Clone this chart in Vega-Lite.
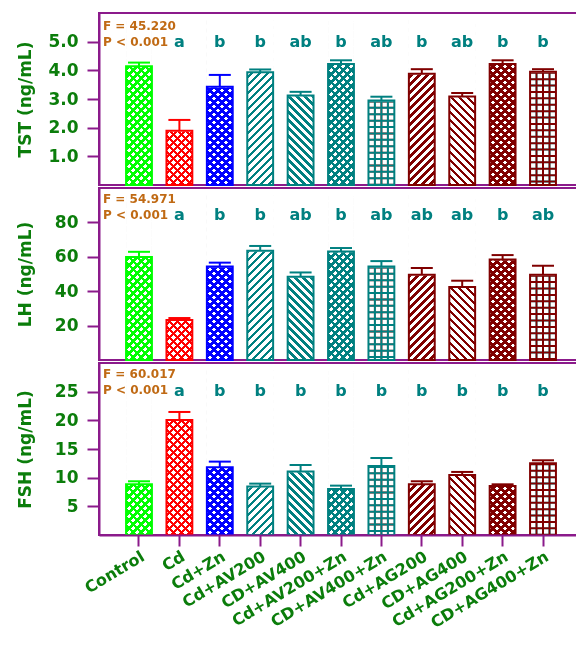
{
  "$schema": "https://vega.github.io/schema/vega-lite/v6.json",
  "background": "white",
  "padding": {"left": 15, "top": 12, "right": 0, "bottom": 0},
  "data": {
    "values": [
      {"g": "Control", "tst": 4.14, "tst_up": 4.27, "tst_sig": "", "lh": 59.9, "lh_up": 62.9, "lh_sig": "", "fsh": 8.84, "fsh_up": 9.37, "fsh_sig": ""},
      {"g": "Cd", "tst": 1.89, "tst_up": 2.27, "tst_sig": "a", "lh": 23.3, "lh_up": 24.4, "lh_sig": "a", "fsh": 20.06, "fsh_up": 21.46, "fsh_sig": "a"},
      {"g": "Cd+Zn", "tst": 3.43, "tst_up": 3.84, "tst_sig": "b", "lh": 54.4, "lh_up": 56.6, "lh_sig": "b", "fsh": 11.81, "fsh_up": 12.8, "fsh_sig": "b"},
      {"g": "Cd+AV200", "tst": 3.93, "tst_up": 4.03, "tst_sig": "b", "lh": 63.5, "lh_up": 66.3, "lh_sig": "b", "fsh": 8.44, "fsh_up": 8.96, "fsh_sig": "b"},
      {"g": "CD+AV400", "tst": 3.12, "tst_up": 3.25, "tst_sig": "ab", "lh": 48.4, "lh_up": 50.9, "lh_sig": "ab", "fsh": 11.06, "fsh_up": 12.21, "fsh_sig": "b"},
      {"g": "Cd+AV200+Zn", "tst": 4.22, "tst_up": 4.35, "tst_sig": "b", "lh": 63.1, "lh_up": 65.1, "lh_sig": "b", "fsh": 8.03, "fsh_up": 8.61, "fsh_sig": "b"},
      {"g": "CD+AV400+Zn", "tst": 2.95, "tst_up": 3.08, "tst_sig": "ab", "lh": 54.4, "lh_up": 57.5, "lh_sig": "ab", "fsh": 12.04, "fsh_up": 13.43, "fsh_sig": "b"},
      {"g": "Cd+AG200", "tst": 3.88, "tst_up": 4.04, "tst_sig": "b", "lh": 49.6, "lh_up": 53.5, "lh_sig": "ab", "fsh": 8.84, "fsh_up": 9.37, "fsh_sig": "b"},
      {"g": "CD+AG400", "tst": 3.09, "tst_up": 3.21, "tst_sig": "ab", "lh": 42.4, "lh_up": 46.1, "lh_sig": "ab", "fsh": 10.47, "fsh_up": 11.0, "fsh_sig": "b"},
      {"g": "Cd+AG200+Zn", "tst": 4.22, "tst_up": 4.35, "tst_sig": "b", "lh": 58.5, "lh_up": 61.0, "lh_sig": "b", "fsh": 8.55, "fsh_up": 8.84, "fsh_sig": "b"},
      {"g": "CD+AG400+Zn", "tst": 3.95, "tst_up": 4.04, "tst_sig": "b", "lh": 49.6, "lh_up": 54.8, "lh_sig": "ab", "fsh": 12.5, "fsh_up": 13.03, "fsh_sig": "b"}
    ]
  },
  "spacing": 0,
  "resolve": {"scale": {"y": "independent"}},
  "vconcat": [
    {
      "width": 484,
      "height": 172,
      "layer": [
        {"transform": [{"filter": {"field": "g", "oneOf": ["Control", "Cd", "Cd+Zn", "Cd+AV200+Zn", "Cd+AG200+Zn", "Cd+AV200", "Cd+AG200"]}}],
         "mark": {"type": "rect"},
         "encoding": {"x": {"field": "g", "type": "nominal", "axis": null, "scale": {"domain": ["Control", "Cd", "Cd+Zn", "Cd+AV200", "CD+AV400", "Cd+AV200+Zn", "CD+AV400+Zn", "Cd+AG200", "CD+AG400", "Cd+AG200+Zn", "CD+AG400+Zn"], "paddingInner": 0.36, "paddingOuter": 0.67}},
                      "y": {"datum": 0, "type": "quantitative", "scale": {"domain": [0, 6]}, "axis": {"title": "TST (ng/mL)", "values": [1, 2, 3, 4, 5], "format": ".1f"}}, "y2": {"datum": 5.76}}},
        {"transform": [{"filter": {"field": "g", "oneOf": ["Control", "Cd", "Cd+Zn", "Cd+AV200+Zn", "Cd+AG200+Zn", "CD+AV400", "CD+AG400"]}}],
         "mark": {"type": "bar"},
         "encoding": {"x": {"field": "g", "type": "nominal", "axis": null},
                      "y": {"datum": 0, "type": "quantitative"}, "y2": {"datum": 5.76}}},
        {"transform": [{"filter": {"field": "g", "oneOf": ["CD+AV400+Zn", "CD+AG400+Zn"]}}],
         "mark": {"type": "rule", "color": "#000", "strokeWidth": 2, "xOffset": -6.5},
         "encoding": {"x": {"field": "g", "type": "nominal", "axis": null},
                      "y": {"field": "tst", "type": "quantitative"}, "y2": {"datum": 0}}},
        {"transform": [{"filter": {"field": "g", "oneOf": ["CD+AV400+Zn", "CD+AG400+Zn"]}}],
         "mark": {"type": "rule", "color": "#000", "strokeWidth": 2},
         "encoding": {"x": {"field": "g", "type": "nominal", "axis": null},
                      "y": {"field": "tst", "type": "quantitative"}, "y2": {"datum": 0}}},
        {"transform": [{"filter": {"field": "g", "oneOf": ["CD+AV400+Zn", "CD+AG400+Zn"]}}],
         "mark": {"type": "rule", "color": "#000", "strokeWidth": 2, "xOffset": 6.5},
         "encoding": {"x": {"field": "g", "type": "nominal", "axis": null},
                      "y": {"field": "tst", "type": "quantitative"}, "y2": {"datum": 0}}},
        {"transform": [{"filter": {"field": "g", "oneOf": ["CD+AV400+Zn", "CD+AG400+Zn"]}}],
         "mark": {"type": "rule", "color": "#000", "strokeWidth": 26, "strokeDash": [2, 4.4], "clip": true},
         "encoding": {"x": {"field": "g", "type": "nominal", "axis": null},
                      "y": {"field": "tst", "type": "quantitative"}, "y2": {"datum": 0}}},
        {"mark": {"type": "bar", "blend": "lighten"},
         "encoding": {"x": {"field": "g", "type": "nominal", "axis": null},
                      "y": {"field": "tst", "type": "quantitative"},
                      "color": {"field": "g", "type": "nominal", "legend": null, "scale": {"domain": ["Control", "Cd", "Cd+Zn", "Cd+AV200", "CD+AV400", "Cd+AV200+Zn", "CD+AV400+Zn", "Cd+AG200", "CD+AG400", "Cd+AG200+Zn", "CD+AG400+Zn"], "range": ["#00ff00", "#ff0000", "#0000ff", "#008080", "#008080", "#008080", "#008080", "#800000", "#800000", "#800000", "#800000"]}}}},
        {"mark": {"type": "bar", "fill": "white", "stroke": "white", "strokeWidth": 1.5},
         "encoding": {"x": {"field": "g", "type": "nominal", "axis": null},
                      "y": {"field": "tst", "type": "quantitative"}, "y2": {"datum": 5.76}}},
        {"mark": {"type": "bar", "fill": "transparent", "strokeWidth": 2},
         "encoding": {"x": {"field": "g", "type": "nominal", "axis": null},
                      "y": {"field": "tst", "type": "quantitative"},
                      "stroke": {"field": "g", "type": "nominal", "legend": null, "scale": {"domain": ["Control", "Cd", "Cd+Zn", "Cd+AV200", "CD+AV400", "Cd+AV200+Zn", "CD+AV400+Zn", "Cd+AG200", "CD+AG400", "Cd+AG200+Zn", "CD+AG400+Zn"], "range": ["#00ff00", "#ff0000", "#0000ff", "#008080", "#008080", "#008080", "#008080", "#800000", "#800000", "#800000", "#800000"]}}}},
        {"mark": {"type": "rule", "strokeWidth": 2},
         "encoding": {"x": {"field": "g", "type": "nominal", "axis": null},
                      "y": {"field": "tst", "type": "quantitative"}, "y2": {"field": "tst_up"},
                      "color": {"field": "g", "type": "nominal", "legend": null}}},
        {"mark": {"type": "tick", "thickness": 2, "size": 22, "opacity": 1},
         "encoding": {"x": {"field": "g", "type": "nominal", "axis": null},
                      "y": {"field": "tst_up", "type": "quantitative"},
                      "color": {"field": "g", "type": "nominal", "legend": null}}},
        {"mark": {"type": "text", "fontSize": 16, "fontWeight": "bold", "color": "#008080"},
         "encoding": {"x": {"field": "g", "type": "nominal", "axis": null},
                      "y": {"datum": 5.0, "type": "quantitative"}, "text": {"field": "tst_sig"}}},
        {"transform": [{"filter": {"field": "g", "equal": "Control"}}],
         "mark": {"type": "text", "align": "left", "dx": -36, "fontSize": 12, "fontWeight": "bold", "color": "#c06a14", "lineHeight": 16, "text": ["F = 45.220", "P < 0.001"]},
         "encoding": {"x": {"field": "g", "type": "nominal", "axis": null},
                      "y": {"datum": 5.55, "type": "quantitative"}}}
      ]
    },
    {
      "width": 484,
      "height": 172,
      "layer": [
        {"transform": [{"filter": {"field": "g", "oneOf": ["Control", "Cd", "Cd+Zn", "Cd+AV200+Zn", "Cd+AG200+Zn", "Cd+AV200", "Cd+AG200"]}}],
         "mark": {"type": "rect"},
         "encoding": {"x": {"field": "g", "type": "nominal", "axis": null, "scale": {"domain": ["Control", "Cd", "Cd+Zn", "Cd+AV200", "CD+AV400", "Cd+AV200+Zn", "CD+AV400+Zn", "Cd+AG200", "CD+AG400", "Cd+AG200+Zn", "CD+AG400+Zn"], "paddingInner": 0.36, "paddingOuter": 0.67}},
                      "y": {"datum": 0, "type": "quantitative", "scale": {"domain": [0, 100]}, "axis": {"title": "LH (ng/mL)", "values": [20, 40, 60, 80]}}, "y2": {"datum": 96}}},
        {"transform": [{"filter": {"field": "g", "oneOf": ["Control", "Cd", "Cd+Zn", "Cd+AV200+Zn", "Cd+AG200+Zn", "CD+AV400", "CD+AG400"]}}],
         "mark": {"type": "bar"},
         "encoding": {"x": {"field": "g", "type": "nominal", "axis": null},
                      "y": {"datum": 0, "type": "quantitative"}, "y2": {"datum": 96}}},
        {"transform": [{"filter": {"field": "g", "oneOf": ["CD+AV400+Zn", "CD+AG400+Zn"]}}],
         "mark": {"type": "rule", "color": "#000", "strokeWidth": 2, "xOffset": -6.5},
         "encoding": {"x": {"field": "g", "type": "nominal", "axis": null},
                      "y": {"field": "lh", "type": "quantitative"}, "y2": {"datum": 0}}},
        {"transform": [{"filter": {"field": "g", "oneOf": ["CD+AV400+Zn", "CD+AG400+Zn"]}}],
         "mark": {"type": "rule", "color": "#000", "strokeWidth": 2},
         "encoding": {"x": {"field": "g", "type": "nominal", "axis": null},
                      "y": {"field": "lh", "type": "quantitative"}, "y2": {"datum": 0}}},
        {"transform": [{"filter": {"field": "g", "oneOf": ["CD+AV400+Zn", "CD+AG400+Zn"]}}],
         "mark": {"type": "rule", "color": "#000", "strokeWidth": 2, "xOffset": 6.5},
         "encoding": {"x": {"field": "g", "type": "nominal", "axis": null},
                      "y": {"field": "lh", "type": "quantitative"}, "y2": {"datum": 0}}},
        {"transform": [{"filter": {"field": "g", "oneOf": ["CD+AV400+Zn", "CD+AG400+Zn"]}}],
         "mark": {"type": "rule", "color": "#000", "strokeWidth": 26, "strokeDash": [2, 4.4], "clip": true},
         "encoding": {"x": {"field": "g", "type": "nominal", "axis": null},
                      "y": {"field": "lh", "type": "quantitative"}, "y2": {"datum": 0}}},
        {"mark": {"type": "bar", "blend": "lighten"},
         "encoding": {"x": {"field": "g", "type": "nominal", "axis": null},
                      "y": {"field": "lh", "type": "quantitative"},
                      "color": {"field": "g", "type": "nominal", "legend": null, "scale": {"domain": ["Control", "Cd", "Cd+Zn", "Cd+AV200", "CD+AV400", "Cd+AV200+Zn", "CD+AV400+Zn", "Cd+AG200", "CD+AG400", "Cd+AG200+Zn", "CD+AG400+Zn"], "range": ["#00ff00", "#ff0000", "#0000ff", "#008080", "#008080", "#008080", "#008080", "#800000", "#800000", "#800000", "#800000"]}}}},
        {"mark": {"type": "bar", "fill": "white", "stroke": "white", "strokeWidth": 1.5},
         "encoding": {"x": {"field": "g", "type": "nominal", "axis": null},
                      "y": {"field": "lh", "type": "quantitative"}, "y2": {"datum": 96}}},
        {"mark": {"type": "bar", "fill": "transparent", "strokeWidth": 2},
         "encoding": {"x": {"field": "g", "type": "nominal", "axis": null},
                      "y": {"field": "lh", "type": "quantitative"},
                      "stroke": {"field": "g", "type": "nominal", "legend": null, "scale": {"domain": ["Control", "Cd", "Cd+Zn", "Cd+AV200", "CD+AV400", "Cd+AV200+Zn", "CD+AV400+Zn", "Cd+AG200", "CD+AG400", "Cd+AG200+Zn", "CD+AG400+Zn"], "range": ["#00ff00", "#ff0000", "#0000ff", "#008080", "#008080", "#008080", "#008080", "#800000", "#800000", "#800000", "#800000"]}}}},
        {"mark": {"type": "rule", "strokeWidth": 2},
         "encoding": {"x": {"field": "g", "type": "nominal", "axis": null},
                      "y": {"field": "lh", "type": "quantitative"}, "y2": {"field": "lh_up"},
                      "color": {"field": "g", "type": "nominal", "legend": null}}},
        {"mark": {"type": "tick", "thickness": 2, "size": 22, "opacity": 1},
         "encoding": {"x": {"field": "g", "type": "nominal", "axis": null},
                      "y": {"field": "lh_up", "type": "quantitative"},
                      "color": {"field": "g", "type": "nominal", "legend": null}}},
        {"mark": {"type": "text", "fontSize": 16, "fontWeight": "bold", "color": "#008080"},
         "encoding": {"x": {"field": "g", "type": "nominal", "axis": null},
                      "y": {"datum": 84.5, "type": "quantitative"}, "text": {"field": "lh_sig"}}},
        {"transform": [{"filter": {"field": "g", "equal": "Control"}}],
         "mark": {"type": "text", "align": "left", "dx": -36, "fontSize": 12, "fontWeight": "bold", "color": "#c06a14", "lineHeight": 16, "text": ["F = 54.971", "P < 0.001"]},
         "encoding": {"x": {"field": "g", "type": "nominal", "axis": null},
                      "y": {"datum": 93.5, "type": "quantitative"}}}
      ]
    },
    {
      "width": 484,
      "height": 172,
      "layer": [
        {"transform": [{"filter": {"field": "g", "oneOf": ["Control", "Cd", "Cd+Zn", "Cd+AV200+Zn", "Cd+AG200+Zn", "Cd+AV200", "Cd+AG200"]}}],
         "mark": {"type": "rect"},
         "encoding": {"x": {"field": "g", "type": "nominal", "axis": {"title": null}, "scale": {"domain": ["Control", "Cd", "Cd+Zn", "Cd+AV200", "CD+AV400", "Cd+AV200+Zn", "CD+AV400+Zn", "Cd+AG200", "CD+AG400", "Cd+AG200+Zn", "CD+AG400+Zn"], "paddingInner": 0.36, "paddingOuter": 0.67}},
                      "y": {"datum": 0, "type": "quantitative", "scale": {"domain": [0, 30]}, "axis": {"title": "FSH (ng/mL)", "values": [5, 10, 15, 20, 25]}}, "y2": {"datum": 28.8}}},
        {"transform": [{"filter": {"field": "g", "oneOf": ["Control", "Cd", "Cd+Zn", "Cd+AV200+Zn", "Cd+AG200+Zn", "CD+AV400", "CD+AG400"]}}],
         "mark": {"type": "bar"},
         "encoding": {"x": {"field": "g", "type": "nominal", "axis": {"title": null}},
                      "y": {"datum": 0, "type": "quantitative"}, "y2": {"datum": 28.8}}},
        {"transform": [{"filter": {"field": "g", "oneOf": ["CD+AV400+Zn", "CD+AG400+Zn"]}}],
         "mark": {"type": "rule", "color": "#000", "strokeWidth": 2, "xOffset": -6.5},
         "encoding": {"x": {"field": "g", "type": "nominal", "axis": {"title": null}},
                      "y": {"field": "fsh", "type": "quantitative"}, "y2": {"datum": 0}}},
        {"transform": [{"filter": {"field": "g", "oneOf": ["CD+AV400+Zn", "CD+AG400+Zn"]}}],
         "mark": {"type": "rule", "color": "#000", "strokeWidth": 2},
         "encoding": {"x": {"field": "g", "type": "nominal", "axis": {"title": null}},
                      "y": {"field": "fsh", "type": "quantitative"}, "y2": {"datum": 0}}},
        {"transform": [{"filter": {"field": "g", "oneOf": ["CD+AV400+Zn", "CD+AG400+Zn"]}}],
         "mark": {"type": "rule", "color": "#000", "strokeWidth": 2, "xOffset": 6.5},
         "encoding": {"x": {"field": "g", "type": "nominal", "axis": {"title": null}},
                      "y": {"field": "fsh", "type": "quantitative"}, "y2": {"datum": 0}}},
        {"transform": [{"filter": {"field": "g", "oneOf": ["CD+AV400+Zn", "CD+AG400+Zn"]}}],
         "mark": {"type": "rule", "color": "#000", "strokeWidth": 26, "strokeDash": [2, 4.4], "clip": true},
         "encoding": {"x": {"field": "g", "type": "nominal", "axis": {"title": null}},
                      "y": {"field": "fsh", "type": "quantitative"}, "y2": {"datum": 0}}},
        {"mark": {"type": "bar", "blend": "lighten"},
         "encoding": {"x": {"field": "g", "type": "nominal", "axis": {"title": null}},
                      "y": {"field": "fsh", "type": "quantitative"},
                      "color": {"field": "g", "type": "nominal", "legend": null, "scale": {"domain": ["Control", "Cd", "Cd+Zn", "Cd+AV200", "CD+AV400", "Cd+AV200+Zn", "CD+AV400+Zn", "Cd+AG200", "CD+AG400", "Cd+AG200+Zn", "CD+AG400+Zn"], "range": ["#00ff00", "#ff0000", "#0000ff", "#008080", "#008080", "#008080", "#008080", "#800000", "#800000", "#800000", "#800000"]}}}},
        {"mark": {"type": "bar", "fill": "white", "stroke": "white", "strokeWidth": 1.5},
         "encoding": {"x": {"field": "g", "type": "nominal", "axis": {"title": null}},
                      "y": {"field": "fsh", "type": "quantitative"}, "y2": {"datum": 28.8}}},
        {"mark": {"type": "bar", "fill": "transparent", "strokeWidth": 2},
         "encoding": {"x": {"field": "g", "type": "nominal", "axis": {"title": null}},
                      "y": {"field": "fsh", "type": "quantitative"},
                      "stroke": {"field": "g", "type": "nominal", "legend": null, "scale": {"domain": ["Control", "Cd", "Cd+Zn", "Cd+AV200", "CD+AV400", "Cd+AV200+Zn", "CD+AV400+Zn", "Cd+AG200", "CD+AG400", "Cd+AG200+Zn", "CD+AG400+Zn"], "range": ["#00ff00", "#ff0000", "#0000ff", "#008080", "#008080", "#008080", "#008080", "#800000", "#800000", "#800000", "#800000"]}}}},
        {"mark": {"type": "rule", "strokeWidth": 2},
         "encoding": {"x": {"field": "g", "type": "nominal", "axis": {"title": null}},
                      "y": {"field": "fsh", "type": "quantitative"}, "y2": {"field": "fsh_up"},
                      "color": {"field": "g", "type": "nominal", "legend": null}}},
        {"mark": {"type": "tick", "thickness": 2, "size": 22, "opacity": 1},
         "encoding": {"x": {"field": "g", "type": "nominal", "axis": {"title": null}},
                      "y": {"field": "fsh_up", "type": "quantitative"},
                      "color": {"field": "g", "type": "nominal", "legend": null}}},
        {"mark": {"type": "text", "fontSize": 16, "fontWeight": "bold", "color": "#008080"},
         "encoding": {"x": {"field": "g", "type": "nominal", "axis": {"title": null}},
                      "y": {"datum": 25.2, "type": "quantitative"}, "text": {"field": "fsh_sig"}}},
        {"transform": [{"filter": {"field": "g", "equal": "Control"}}],
         "mark": {"type": "text", "align": "left", "dx": -36, "fontSize": 12, "fontWeight": "bold", "color": "#c06a14", "lineHeight": 16, "text": ["F = 60.017", "P < 0.001"]},
         "encoding": {"x": {"field": "g", "type": "nominal", "axis": {"title": null}},
                      "y": {"datum": 28.05, "type": "quantitative"}}}
      ]
    }
  ],
  "config": {
    "font": "DejaVu Sans",
    "view": {"stroke": "#8b1a8b", "strokeWidth": 2, "fill": "white"},
    "axis": {"domainColor": "#8b1a8b", "domainWidth": 2, "tickColor": "#8b1a8b", "tickWidth": 2, "grid": false,
             "labelColor": "#0b7d0b", "labelFontWeight": "bold", "titleColor": "#0b7d0b", "titleFontWeight": "bold"},
    "axisY": {"tickSize": 12, "labelFontSize": 17, "labelPadding": 9, "titleFontSize": 17, "titlePadding": 5, "minExtent": 60, "maxExtent": 60},
    "axisX": {"tickSize": 11, "labelFontSize": 16, "labelAngle": -31, "labelAlign": "right", "labelBaseline": "top", "labelPadding": 2},
    "rect": {"fill": {"gradient": "linear", "x1": 0, "y1": 0, "x2": 0.18516, "y2": 1.18228, "stops": [
        {"offset": 0, "color": "#000"}, {"offset": 0.0175, "color": "#000"}, {"offset": 0.0175, "color": "rgba(0,0,0,0)"}, {"offset": 0.04, "color": "rgba(0,0,0,0)"},
        {"offset": 0.04, "color": "#000"}, {"offset": 0.0575, "color": "#000"}, {"offset": 0.0575, "color": "rgba(0,0,0,0)"}, {"offset": 0.08, "color": "rgba(0,0,0,0)"},
        {"offset": 0.08, "color": "#000"}, {"offset": 0.0975, "color": "#000"}, {"offset": 0.0975, "color": "rgba(0,0,0,0)"}, {"offset": 0.12, "color": "rgba(0,0,0,0)"},
        {"offset": 0.12, "color": "#000"}, {"offset": 0.1375, "color": "#000"}, {"offset": 0.1375, "color": "rgba(0,0,0,0)"}, {"offset": 0.16, "color": "rgba(0,0,0,0)"},
        {"offset": 0.16, "color": "#000"}, {"offset": 0.1775, "color": "#000"}, {"offset": 0.1775, "color": "rgba(0,0,0,0)"}, {"offset": 0.2, "color": "rgba(0,0,0,0)"},
        {"offset": 0.2, "color": "#000"}, {"offset": 0.2175, "color": "#000"}, {"offset": 0.2175, "color": "rgba(0,0,0,0)"}, {"offset": 0.24, "color": "rgba(0,0,0,0)"},
        {"offset": 0.24, "color": "#000"}, {"offset": 0.2575, "color": "#000"}, {"offset": 0.2575, "color": "rgba(0,0,0,0)"}, {"offset": 0.28, "color": "rgba(0,0,0,0)"},
        {"offset": 0.28, "color": "#000"}, {"offset": 0.2975, "color": "#000"}, {"offset": 0.2975, "color": "rgba(0,0,0,0)"}, {"offset": 0.32, "color": "rgba(0,0,0,0)"},
        {"offset": 0.32, "color": "#000"}, {"offset": 0.3375, "color": "#000"}, {"offset": 0.3375, "color": "rgba(0,0,0,0)"}, {"offset": 0.36, "color": "rgba(0,0,0,0)"},
        {"offset": 0.36, "color": "#000"}, {"offset": 0.3775, "color": "#000"}, {"offset": 0.3775, "color": "rgba(0,0,0,0)"}, {"offset": 0.4, "color": "rgba(0,0,0,0)"},
        {"offset": 0.4, "color": "#000"}, {"offset": 0.4175, "color": "#000"}, {"offset": 0.4175, "color": "rgba(0,0,0,0)"}, {"offset": 0.44, "color": "rgba(0,0,0,0)"},
        {"offset": 0.44, "color": "#000"}, {"offset": 0.4575, "color": "#000"}, {"offset": 0.4575, "color": "rgba(0,0,0,0)"}, {"offset": 0.48, "color": "rgba(0,0,0,0)"},
        {"offset": 0.48, "color": "#000"}, {"offset": 0.4975, "color": "#000"}, {"offset": 0.4975, "color": "rgba(0,0,0,0)"}, {"offset": 0.52, "color": "rgba(0,0,0,0)"},
        {"offset": 0.52, "color": "#000"}, {"offset": 0.5375, "color": "#000"}, {"offset": 0.5375, "color": "rgba(0,0,0,0)"}, {"offset": 0.56, "color": "rgba(0,0,0,0)"},
        {"offset": 0.56, "color": "#000"}, {"offset": 0.5775, "color": "#000"}, {"offset": 0.5775, "color": "rgba(0,0,0,0)"}, {"offset": 0.6, "color": "rgba(0,0,0,0)"},
        {"offset": 0.6, "color": "#000"}, {"offset": 0.6175, "color": "#000"}, {"offset": 0.6175, "color": "rgba(0,0,0,0)"}, {"offset": 0.64, "color": "rgba(0,0,0,0)"},
        {"offset": 0.64, "color": "#000"}, {"offset": 0.6575, "color": "#000"}, {"offset": 0.6575, "color": "rgba(0,0,0,0)"}, {"offset": 0.68, "color": "rgba(0,0,0,0)"},
        {"offset": 0.68, "color": "#000"}, {"offset": 0.6975, "color": "#000"}, {"offset": 0.6975, "color": "rgba(0,0,0,0)"}, {"offset": 0.72, "color": "rgba(0,0,0,0)"},
        {"offset": 0.72, "color": "#000"}, {"offset": 0.7375, "color": "#000"}, {"offset": 0.7375, "color": "rgba(0,0,0,0)"}, {"offset": 0.76, "color": "rgba(0,0,0,0)"},
        {"offset": 0.76, "color": "#000"}, {"offset": 0.7775, "color": "#000"}, {"offset": 0.7775, "color": "rgba(0,0,0,0)"}, {"offset": 0.8, "color": "rgba(0,0,0,0)"},
        {"offset": 0.8, "color": "#000"}, {"offset": 0.8175, "color": "#000"}, {"offset": 0.8175, "color": "rgba(0,0,0,0)"}, {"offset": 0.84, "color": "rgba(0,0,0,0)"},
        {"offset": 0.84, "color": "#000"}, {"offset": 0.8575, "color": "#000"}, {"offset": 0.8575, "color": "rgba(0,0,0,0)"}, {"offset": 0.88, "color": "rgba(0,0,0,0)"},
        {"offset": 0.88, "color": "#000"}, {"offset": 0.8975, "color": "#000"}, {"offset": 0.8975, "color": "rgba(0,0,0,0)"}, {"offset": 0.92, "color": "rgba(0,0,0,0)"},
        {"offset": 0.92, "color": "#000"}, {"offset": 0.9375, "color": "#000"}, {"offset": 0.9375, "color": "rgba(0,0,0,0)"}, {"offset": 0.96, "color": "rgba(0,0,0,0)"},
        {"offset": 0.96, "color": "#000"}, {"offset": 0.9775, "color": "#000"}, {"offset": 0.9775, "color": "rgba(0,0,0,0)"}, {"offset": 1, "color": "rgba(0,0,0,0)"}
      ]}},
    "bar": {"fill": {"gradient": "linear", "x1": 0, "y1": 1, "x2": 0.18516, "y2": -0.18228, "stops": [
        {"offset": 0, "color": "#000"}, {"offset": 0.0175, "color": "#000"}, {"offset": 0.0175, "color": "rgba(0,0,0,0)"}, {"offset": 0.04, "color": "rgba(0,0,0,0)"},
        {"offset": 0.04, "color": "#000"}, {"offset": 0.0575, "color": "#000"}, {"offset": 0.0575, "color": "rgba(0,0,0,0)"}, {"offset": 0.08, "color": "rgba(0,0,0,0)"},
        {"offset": 0.08, "color": "#000"}, {"offset": 0.0975, "color": "#000"}, {"offset": 0.0975, "color": "rgba(0,0,0,0)"}, {"offset": 0.12, "color": "rgba(0,0,0,0)"},
        {"offset": 0.12, "color": "#000"}, {"offset": 0.1375, "color": "#000"}, {"offset": 0.1375, "color": "rgba(0,0,0,0)"}, {"offset": 0.16, "color": "rgba(0,0,0,0)"},
        {"offset": 0.16, "color": "#000"}, {"offset": 0.1775, "color": "#000"}, {"offset": 0.1775, "color": "rgba(0,0,0,0)"}, {"offset": 0.2, "color": "rgba(0,0,0,0)"},
        {"offset": 0.2, "color": "#000"}, {"offset": 0.2175, "color": "#000"}, {"offset": 0.2175, "color": "rgba(0,0,0,0)"}, {"offset": 0.24, "color": "rgba(0,0,0,0)"},
        {"offset": 0.24, "color": "#000"}, {"offset": 0.2575, "color": "#000"}, {"offset": 0.2575, "color": "rgba(0,0,0,0)"}, {"offset": 0.28, "color": "rgba(0,0,0,0)"},
        {"offset": 0.28, "color": "#000"}, {"offset": 0.2975, "color": "#000"}, {"offset": 0.2975, "color": "rgba(0,0,0,0)"}, {"offset": 0.32, "color": "rgba(0,0,0,0)"},
        {"offset": 0.32, "color": "#000"}, {"offset": 0.3375, "color": "#000"}, {"offset": 0.3375, "color": "rgba(0,0,0,0)"}, {"offset": 0.36, "color": "rgba(0,0,0,0)"},
        {"offset": 0.36, "color": "#000"}, {"offset": 0.3775, "color": "#000"}, {"offset": 0.3775, "color": "rgba(0,0,0,0)"}, {"offset": 0.4, "color": "rgba(0,0,0,0)"},
        {"offset": 0.4, "color": "#000"}, {"offset": 0.4175, "color": "#000"}, {"offset": 0.4175, "color": "rgba(0,0,0,0)"}, {"offset": 0.44, "color": "rgba(0,0,0,0)"},
        {"offset": 0.44, "color": "#000"}, {"offset": 0.4575, "color": "#000"}, {"offset": 0.4575, "color": "rgba(0,0,0,0)"}, {"offset": 0.48, "color": "rgba(0,0,0,0)"},
        {"offset": 0.48, "color": "#000"}, {"offset": 0.4975, "color": "#000"}, {"offset": 0.4975, "color": "rgba(0,0,0,0)"}, {"offset": 0.52, "color": "rgba(0,0,0,0)"},
        {"offset": 0.52, "color": "#000"}, {"offset": 0.5375, "color": "#000"}, {"offset": 0.5375, "color": "rgba(0,0,0,0)"}, {"offset": 0.56, "color": "rgba(0,0,0,0)"},
        {"offset": 0.56, "color": "#000"}, {"offset": 0.5775, "color": "#000"}, {"offset": 0.5775, "color": "rgba(0,0,0,0)"}, {"offset": 0.6, "color": "rgba(0,0,0,0)"},
        {"offset": 0.6, "color": "#000"}, {"offset": 0.6175, "color": "#000"}, {"offset": 0.6175, "color": "rgba(0,0,0,0)"}, {"offset": 0.64, "color": "rgba(0,0,0,0)"},
        {"offset": 0.64, "color": "#000"}, {"offset": 0.6575, "color": "#000"}, {"offset": 0.6575, "color": "rgba(0,0,0,0)"}, {"offset": 0.68, "color": "rgba(0,0,0,0)"},
        {"offset": 0.68, "color": "#000"}, {"offset": 0.6975, "color": "#000"}, {"offset": 0.6975, "color": "rgba(0,0,0,0)"}, {"offset": 0.72, "color": "rgba(0,0,0,0)"},
        {"offset": 0.72, "color": "#000"}, {"offset": 0.7375, "color": "#000"}, {"offset": 0.7375, "color": "rgba(0,0,0,0)"}, {"offset": 0.76, "color": "rgba(0,0,0,0)"},
        {"offset": 0.76, "color": "#000"}, {"offset": 0.7775, "color": "#000"}, {"offset": 0.7775, "color": "rgba(0,0,0,0)"}, {"offset": 0.8, "color": "rgba(0,0,0,0)"},
        {"offset": 0.8, "color": "#000"}, {"offset": 0.8175, "color": "#000"}, {"offset": 0.8175, "color": "rgba(0,0,0,0)"}, {"offset": 0.84, "color": "rgba(0,0,0,0)"},
        {"offset": 0.84, "color": "#000"}, {"offset": 0.8575, "color": "#000"}, {"offset": 0.8575, "color": "rgba(0,0,0,0)"}, {"offset": 0.88, "color": "rgba(0,0,0,0)"},
        {"offset": 0.88, "color": "#000"}, {"offset": 0.8975, "color": "#000"}, {"offset": 0.8975, "color": "rgba(0,0,0,0)"}, {"offset": 0.92, "color": "rgba(0,0,0,0)"},
        {"offset": 0.92, "color": "#000"}, {"offset": 0.9375, "color": "#000"}, {"offset": 0.9375, "color": "rgba(0,0,0,0)"}, {"offset": 0.96, "color": "rgba(0,0,0,0)"},
        {"offset": 0.96, "color": "#000"}, {"offset": 0.9775, "color": "#000"}, {"offset": 0.9775, "color": "rgba(0,0,0,0)"}, {"offset": 1, "color": "rgba(0,0,0,0)"}
      ]}}
  }
}
